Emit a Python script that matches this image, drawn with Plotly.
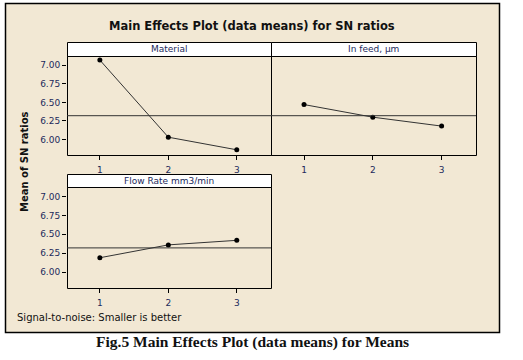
import plotly.graph_objects as go

W, H = 523, 360

levels = [1, 2, 3]
material = [7.07, 6.03, 5.86]
in_feed = [6.47, 6.30, 6.18]
flow_rate = [6.19, 6.36, 6.42]
panel_titles = ["Material", "In feed, µm", "Flow Rate mm3/min"]
y_ticks = [6.00, 6.25, 6.50, 6.75, 7.00]
y_tick_text = ["6.00", "6.25", "6.50", "6.75", "7.00"]

grand_mean = (sum(material) + sum(in_feed) + sum(flow_rate)) / 9.0

def px(x):
    return x / W

def py(y):
    return 1 - y / H

NAVY = "#1c2a5c"
FONT = "DejaVu Sans"

fig = go.Figure()

series = [material, in_feed, flow_rate]
for i, s in enumerate(series):
    fig.add_trace(go.Scatter(
        x=levels, y=s, mode="lines+markers",
        line=dict(color="#333333", width=1),
        marker=dict(color="black", size=5),
        xaxis=f"x{i+1}" if i else "x", yaxis=f"y{i+1}" if i else "y",
        showlegend=False, hoverinfo="skip"))

# panel geometry (pixels): x0, x1, plot top, plot bottom, header top
panels = [
    (67, 271, 56, 155, 42),
    (271, 476, 56, 155, 42),
    (67, 271, 187, 288, 174),
]

axis_common = dict(showgrid=False, zeroline=False, showline=False,
                   ticks="outside", ticklen=4, tickcolor="black",
                   tickfont=dict(family=FONT, size=9, color=NAVY))

layout = dict(width=W, height=H, margin=dict(l=0, r=0, t=0, b=0),
              paper_bgcolor="white", plot_bgcolor="white", showlegend=False)

for i, (x0, x1, y0, y1, hy) in enumerate(panels):
    xa = "xaxis" if i == 0 else f"xaxis{i+1}"
    ya = "yaxis" if i == 0 else f"yaxis{i+1}"
    layout[xa] = dict(axis_common, domain=[px(x0), px(x1)], range=[0.52, 3.5],
                      tickvals=levels, ticktext=[str(v) for v in levels],
                      ticklabelstandoff=2,
                      anchor="y" if i == 0 else f"y{i+1}")
    layout[ya] = dict(axis_common, domain=[py(y1), py(y0)], range=[5.79, 7.125],
                      tickvals=y_ticks, ticktext=y_tick_text,
                      showticklabels=(i != 1), ticks="" if i == 1 else "outside",
                      anchor="x" if i == 0 else f"x{i+1}")

fig.update_layout(**layout)

shapes = []
# beige background box
shapes.append(dict(type="rect", xref="paper", yref="paper", x0=px(5.5), x1=px(499.5),
                   y0=py(332.5), y1=py(3.5), fillcolor="#f2e8d4",
                   line=dict(color="black", width=1.5), layer="below"))
annotations = []
for i, (x0, x1, y0, y1, hy) in enumerate(panels):
    # header strip
    shapes.append(dict(type="rect", xref="paper", yref="paper", x0=px(x0 + 0.5), x1=px(x1 + 0.5),
                       y0=py(y0 + 0.5), y1=py(hy + 0.5), fillcolor="white",
                       line=dict(color="black", width=1)))
    # plot-area border
    shapes.append(dict(type="rect", xref="paper", yref="paper", x0=px(x0 + 0.5), x1=px(x1 + 0.5),
                       y0=py(y1 + 0.5), y1=py(y0 + 0.5), fillcolor="rgba(0,0,0,0)",
                       line=dict(color="black", width=1)))
    annotations.append(dict(text=panel_titles[i], xref="paper", yref="paper",
                            x=px((x0 + x1) / 2), y=py((hy + y0) / 2), showarrow=False,
                            font=dict(family=FONT, size=9, color=NAVY),
                            xanchor="center", yanchor="middle"))
    xr = "x" if i == 0 else f"x{i+1}"
    yr = "y" if i == 0 else f"y{i+1}"
    shapes.append(dict(type="line", xref=f"{xr} domain", yref=yr, x0=0, x1=1,
                       y0=grand_mean, y1=grand_mean, line=dict(color="#333333", width=1)))

annotations.append(dict(text="<b>Main Effects Plot (data means) for SN ratios</b>",
                        xref="paper", yref="paper", x=px(252), y=py(26), showarrow=False,
                        font=dict(family=FONT, size=11.5, color="#111111"),
                        xanchor="center", yanchor="middle"))
annotations.append(dict(text="<b>Mean of SN ratios</b>", xref="paper", yref="paper",
                        x=px(25), y=py(162), showarrow=False, textangle=-90,
                        font=dict(family=FONT, size=10, color="#111111"),
                        xanchor="center", yanchor="middle"))
annotations.append(dict(text="Signal-to-noise: Smaller is better", xref="paper", yref="paper",
                        x=px(15), y=py(317), showarrow=False,
                        font=dict(family=FONT, size=10, color="#111111"),
                        xanchor="left", yanchor="middle"))
annotations.append(dict(text="<b>Fig.5 Main Effects Plot (data means) for Means</b>",
                        xref="paper", yref="paper", x=px(252), y=py(342), showarrow=False,
                        font=dict(family="Liberation Serif", size=15.5, color="#111111"),
                        xanchor="center", yanchor="middle"))

fig.update_layout(shapes=shapes, annotations=annotations)
fig.write_html("out.html", config={"displayModeBar": False},
               post_script="document.body.style.margin='0';")
